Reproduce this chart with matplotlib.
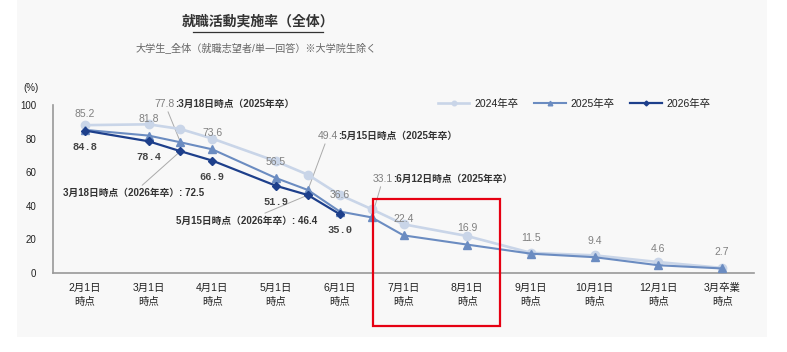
import matplotlib
matplotlib.use("Agg")
import matplotlib.pyplot as plt
from matplotlib.patches import Rectangle
from matplotlib.lines import Line2D

plt.rcParams["font.family"] = ["Liberation Sans", "Noto Sans CJK JP"]

# ── data ────────────────────────────────────────────────────────────
CATEGORIES = ["2月1日\n時点", "3月1日\n時点", "4月1日\n時点", "5月1日\n時点", "6月1日\n時点",
              "7月1日\n時点", "8月1日\n時点", "9月1日\n時点", "10月1日\n時点", "12月1日\n時点",
              "3月卒業\n時点"]
# survey points (category index; x.5 = mid-month survey)
POINT_POS = [0, 1, 1.5, 2, 3, 3.5, 4, 4.5, 5, 6, 7, 8, 9, 10]
Y2024 = [88.0, 88.5, 85.7, 80.0, 66.5, 58.5, 46.5, 38.0, 29.0, 22.0, 12.0, 10.5, 6.5, 3.0]
Y2025 = [85.2, 81.8, 77.8, 73.6, 56.5, 49.4, 36.6, 33.1, 22.4, 16.9, 11.5, 9.4, 4.6, 2.7]
Y2026 = [84.8, 78.4, 72.5, 66.9, 51.9, 46.4, 35.0]
SERIES = ["2024年卒", "2025年卒", "2026年卒"]
YTICKS = [0, 20, 40, 60, 80, 100]

C24, C25, C26 = "#c9d5e8", "#6b8cc1", "#1d3f8b"
W, H = 787, 352

fig = plt.figure(figsize=(W / 100, H / 100), dpi=100)
fig.patch.set_facecolor("white")
fig.add_artist(Rectangle((17 / W, 1 - 337 / H), 750 / W, 337 / H, transform=fig.transFigure,
                         facecolor="#f8f8f8", edgecolor="none", zorder=-10))

ax = fig.add_axes([53 / W, 1 - 273 / H, 701 / W, 168 / H])
ax.set_facecolor("#f8f8f8")

ax.plot(POINT_POS, Y2024, color=C24, lw=1.9, marker="o", ms=6, mec=C24, zorder=2, label=SERIES[0])
ax.plot(POINT_POS, Y2025, color=C25, lw=1.5, marker="^", ms=6, mec=C25, zorder=3, label=SERIES[1])
ax.plot(POINT_POS[:len(Y2026)], Y2026, color=C26, lw=1.6, marker="D", ms=4.5, mec=C26,
        zorder=4, label=SERIES[2])

ax.set_xlim(-0.5, len(CATEGORIES) - 0.5)
ax.set_ylim(0, 100)
ax.set_xticks(range(len(CATEGORIES)))
ax.set_xticklabels(CATEGORIES, fontsize=7.5, color="#222222", linespacing=1.5)
ax.set_yticks(YTICKS)
ax.set_yticklabels([str(v) for v in YTICKS], fontsize=7, color="#222222")
ax.tick_params(axis="both", length=0)
ax.tick_params(axis="x", pad=7)
ax.tick_params(axis="y", pad=12)
for s in ["top", "right"]:
    ax.spines[s].set_visible(False)
for s in ["left", "bottom"]:
    ax.spines[s].set_color("#999999")
    ax.spines[s].set_linewidth(1.2)

# value labels at whole-month points
for x, v in zip(POINT_POS, Y2025):
    if x % 1:
        continue
    ax.annotate(f"{v:.1f}", (x, v), xytext=(0, 8), textcoords="offset points",
                ha="center", va="bottom", fontsize=7.5, color="#808080")
for x, v in zip(POINT_POS, Y2026):
    if x % 1:
        continue
    ax.annotate(f"{v:.1f}", (x, v), xytext=(0, -8), textcoords="offset points",
                ha="center", va="top", fontsize=7.5, color="#444444",
                family="Liberation Mono", fontweight="bold")

# mid-month callouts
lead = dict(arrowstyle="-", color="#aaaaaa", lw=0.7, shrinkA=0, shrinkB=0)
top_calls = [(2, 1.384, 100.6), (5, 3.943, 81.5), (7, 4.806, 56.0)]
dates = {2: "3月18日", 5: "5月15日", 7: "6月12日"}
for i, tx, ty in top_calls:
    ax.annotate(f"{Y2025[i]:.1f}", (POINT_POS[i], Y2025[i]), xytext=(tx + 0.03, ty),
                ha="right", va="center", fontsize=7.5, color="#808080", arrowprops=lead,
                zorder=1)
    ax.text(tx + 0.03, ty, f":{dates[i]}時点（2025年卒）", ha="left", va="center",
            fontsize=7, color="#333333", fontweight="bold")

bottom_calls = [(2, 1.87, 47.6), (5, 3.644, 31.0)]
for i, tx, ty in bottom_calls:
    ax.annotate(f"{dates[i]}時点（2026年卒）: {Y2026[i]:.1f}", (POINT_POS[i], Y2026[i]),
                xytext=(tx, ty), ha="right", va="center", fontsize=7, color="#333333",
                fontweight="bold", arrowprops=lead, zorder=1)

leg = ax.legend(loc="center left", bbox_to_anchor=(433 / W, 1 - 104 / H),
                bbox_transform=fig.transFigure, ncol=3, frameon=False, fontsize=7.5,
                handlelength=3.0, handletextpad=0.5, columnspacing=1.5, borderpad=0,
                markerscale=0.55)
for t in leg.get_texts():
    t.set_color("#222222")

# titles
fig.text(258 / W, 1 - 22 / H, "就職活動実施率（全体）", ha="center", va="center",
         fontsize=10, color="#333333", fontweight="bold")
fig.add_artist(Line2D([193 / W, 323 / W], [1 - 32 / H, 1 - 32 / H], transform=fig.transFigure,
                      color="#333333", lw=0.9))
fig.text(256 / W, 1 - 48 / H, "大学生_全体（就職志望者/単一回答）※大学院生除く", ha="center",
         va="center", fontsize=7.3, color="#666666")
fig.text(31 / W, 1 - 88 / H, "(%)", ha="center", va="center", fontsize=7, color="#222222")

# highlight box
fig.add_artist(Rectangle((373 / W, 1 - 326 / H), 127 / W, 127 / H, transform=fig.transFigure,
                         facecolor="none", edgecolor="#e60012", lw=1.6, zorder=10))

fig.savefig("out.png", dpi=100, facecolor=fig.get_facecolor())
